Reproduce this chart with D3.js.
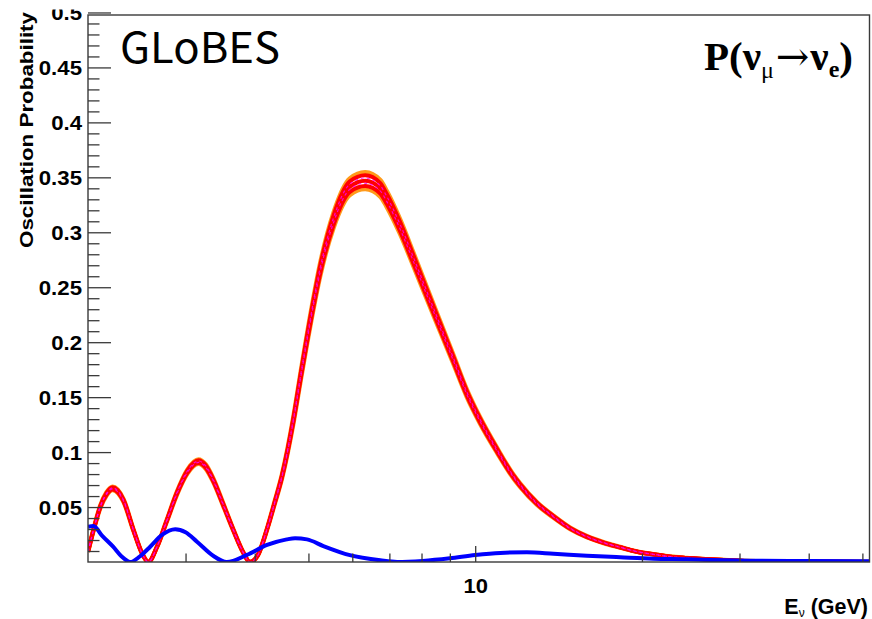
<!DOCTYPE html>
<html>
<head>
<meta charset="utf-8">
<script src="https://cdn.jsdelivr.net/npm/d3@7"></script>
<style>
  html, body { margin: 0; padding: 0; background: #fff; }
  svg { display: block; }
</style>
</head>
<body>
<svg id="chart" width="872" height="619"></svg>
<script>
// ---------------- data ----------------
// Energy in GeV (log axis), oscillation probability P(nu_mu -> nu_e)
const redE = [2.00, 2.046, 2.104, 2.16, 2.215, 2.318, 2.416, 2.503, 2.57, 2.665, 2.777, 2.894, 3.021, 3.166, 3.26, 3.365, 3.51, 3.66, 3.81, 3.92, 4.05, 4.21, 4.34, 4.48, 4.70, 4.83, 5.04, 5.25, 5.55, 5.94, 6.33, 6.74, 6.93, 7.32, 7.74, 8.18, 8.65, 9.14, 9.66, 10.2, 10.94, 11.73, 12.05, 12.92, 13.85, 14.84, 15.91, 17.04, 18.27, 19.59, 20.98, 22.49, 24.1, 26.9, 30.0, 35.0, 42.0, 51.5];
const redP = [0.0094, 0.029, 0.050, 0.062, 0.067, 0.056, 0.029, 0.008, 0.0, 0.0139, 0.038, 0.0625, 0.082, 0.0913, 0.087, 0.0746, 0.052, 0.029, 0.009, 0.0, 0.006, 0.030, 0.053, 0.078, 0.130, 0.166, 0.220, 0.266, 0.311, 0.3415, 0.347, 0.340, 0.330, 0.305, 0.275, 0.2445, 0.214, 0.184, 0.1535, 0.129, 0.102, 0.0776, 0.0700, 0.0534, 0.0412, 0.0306, 0.023, 0.0176, 0.0134, 0.0094, 0.0070, 0.0048, 0.0036, 0.0022, 0.0012, 0.0005, 0.0002, 0.0001];
// spread of the family of red curves (relative scale of each drawn curve)
const redBandOuter = [1.022, 0.978];
const redBandMid   = [1.014, 1.0, 0.986];
const redBandInner = [1.007, 0.993];

const blueE = [2.00, 2.046, 2.12, 2.22, 2.30, 2.384, 2.48, 2.59, 2.72, 2.874, 3.00, 3.146, 3.37, 3.56, 3.87, 4.21, 4.57, 4.73, 4.97, 5.32, 5.94, 6.74, 7.23, 8.04, 9.0, 10.0, 11.1, 12.4, 13.85, 15.91, 18.27, 20.98, 24.1, 26.9, 32.0, 40.0, 51.5];
const blueP = [0.032, 0.0328, 0.024, 0.0139, 0.005, 0.0, 0.005, 0.0139, 0.0246, 0.0298, 0.027, 0.0185, 0.0055, 0.0, 0.0064, 0.0155, 0.0206, 0.0216, 0.0206, 0.0145, 0.0062, 0.0015, 0.0, 0.001, 0.0034, 0.0064, 0.0083, 0.0088, 0.0075, 0.0057, 0.0043, 0.0030, 0.0025, 0.0018, 0.0012, 0.0008, 0.0006];

const xDomain = [2, 51.5];
const yDomain = [0, 0.4977];
const xMajorTicks = [10];
const xMajorLabels = ["10"];
const xMinorTicks = [3, 4, 5, 6, 7, 8, 9, 20, 30, 40, 50];
const yMajorTicks = [0.05, 0.1, 0.15, 0.2, 0.25, 0.3, 0.35, 0.4, 0.45, 0.5];
const yMajorLabels = ["0.05", "0.1", "0.15", "0.2", "0.25", "0.3", "0.35", "0.4", "0.45", "0.5"];
const yMinorTicks = [0.01, 0.02, 0.03, 0.04, 0.06, 0.07, 0.08, 0.09, 0.11, 0.12, 0.13, 0.14, 0.16, 0.17, 0.18, 0.19,
  0.21, 0.22, 0.23, 0.24, 0.26, 0.27, 0.28, 0.29, 0.31, 0.32, 0.33, 0.34, 0.36, 0.37, 0.38, 0.39,
  0.41, 0.42, 0.43, 0.44, 0.46, 0.47, 0.48, 0.49];

const xTitle = ["E", "ν", " (GeV)"];
const yTitle = "Oscillation Probability";
const brand = "GLoBES";

// ---------------- layout ----------------
const X0 = 88, X1 = 869.5, Y0 = 15, Y1 = 562;
const svg = d3.select("#chart");
const x = d3.scaleLog().domain(xDomain).range([X0, X1]);
const y = d3.scaleLinear().domain(yDomain).range([Y1, Y0]);
const axisColor = "#3a3a3a";

svg.append("defs").append("clipPath").attr("id", "plotclip")
  .append("rect").attr("x", X0).attr("y", Y0).attr("width", X1 - X0).attr("height", Y1 - Y0);

const plot = svg.append("g").attr("clip-path", "url(#plotclip)");

function lineFor(E, P, k) {
  return d3.line()
    .x((d, i) => x(E[i]))
    .y((d, i) => y(P[i] * k))
    .curve(d3.curveMonotoneX)(P);
}

// red family
redBandOuter.forEach(k => plot.append("path").attr("d", lineFor(redE, redP, k))
  .attr("fill", "none").attr("stroke", "#ff9a1a").attr("stroke-width", 4.5).attr("stroke-linejoin", "round"));
redBandMid.forEach(k => plot.append("path").attr("d", lineFor(redE, redP, k))
  .attr("fill", "none").attr("stroke", "#ff0000").attr("stroke-width", 4).attr("stroke-linejoin", "round"));
redBandInner.forEach(k => plot.append("path").attr("d", lineFor(redE, redP, k))
  .attr("fill", "none").attr("stroke", "#ff00ff").attr("stroke-width", 1.2).attr("stroke-dasharray", "3,3").attr("opacity", 0.8));

// blue
plot.append("path").attr("d", lineFor(blueE, blueP, 1))
  .attr("fill", "none").attr("stroke", "#0000ff").attr("stroke-width", 4).attr("stroke-linejoin", "round");

// ---------------- axes ----------------
const labelFont = "'Liberation Sans', Arial, Helvetica, sans-serif";

const yMajorAxis = d3.axisLeft(y).tickValues(yMajorTicks).tickSize(-23).tickPadding(6)
  .tickFormat((d, i) => yMajorLabels[i]);
const yMinorAxis = d3.axisLeft(y).tickValues(yMinorTicks).tickSize(-11.5).tickFormat("");
const gyMinor = svg.append("g").attr("transform", `translate(${X0},0)`).call(yMinorAxis);
const gy = svg.append("g").attr("transform", `translate(${X0},0)`).call(yMajorAxis);

const xMajorAxis = d3.axisBottom(x).tickValues(xMajorTicks).tickSize(-16).tickPadding(0)
  .tickFormat((d, i) => xMajorLabels[i]);
const xMinorAxis = d3.axisBottom(x).tickValues(xMinorTicks).tickSize(-8.5).tickFormat("");
const gxMinor = svg.append("g").attr("transform", `translate(0,${Y1})`).call(xMinorAxis);
const gx = svg.append("g").attr("transform", `translate(0,${Y1})`).call(xMajorAxis);

[gy, gyMinor, gx, gxMinor].forEach(g => {
  g.select(".domain").remove();
  g.selectAll(".tick line").attr("stroke", axisColor).attr("stroke-width", 1.3);
});

gy.selectAll(".tick text")
  .attr("font-family", labelFont).attr("font-weight", "bold").attr("font-size", 19.5)
  .attr("fill", "#000").attr("dy", "0.36em").attr("x", -6)
  .attr("transform", "translate(-6,0) scale(1.14,1) translate(6,0)");

gx.selectAll(".tick text")
  .attr("font-family", labelFont).attr("font-weight", "bold").attr("font-size", 20)
  .attr("fill", "#000").attr("y", 31).attr("dy", 0)
  .attr("transform", "scale(1.1,1)");

// frame
svg.append("rect").attr("x", X0).attr("y", Y0).attr("width", X1 - X0).attr("height", Y1 - Y0)
  .attr("fill", "none").attr("stroke", axisColor).attr("stroke-width", 1.4);

// cut at very top of the picture (label 0.5 is clipped in the reference)
svg.append("rect").attr("x", 0).attr("y", 0).attr("width", X0 - 2).attr("height", 9.5).attr("fill", "#fff");

// axis titles
svg.append("text")
  .attr("transform", "translate(33,12) rotate(-90)")
  .attr("text-anchor", "end")
  .attr("font-family", labelFont).attr("font-weight", "bold").attr("font-size", 18)
  .attr("textLength", 236).attr("lengthAdjust", "spacingAndGlyphs")
  .attr("fill", "#000")
  .text(yTitle);

const xt = svg.append("text")
  .attr("x", 868).attr("y", 614)
  .attr("text-anchor", "end")
  .attr("font-family", labelFont).attr("font-weight", "bold").attr("font-size", 21.5)
  .attr("fill", "#000");
xt.append("tspan").text(xTitle[0]);
xt.append("tspan").attr("font-size", 12).attr("dy", 3).attr("font-weight", "normal").text(xTitle[1]);
xt.append("tspan").attr("dy", -3).text(xTitle[2]);

// GLoBES brand
svg.append("text")
  .attr("x", 120).attr("y", 63)
  .attr("font-family", "'Noto Sans CJK JP', 'Noto Sans', sans-serif")
  .attr("font-size", 42).attr("font-weight", 400)
  .attr("textLength", 160).attr("lengthAdjust", "spacingAndGlyphs")
  .attr("fill", "#000")
  .text(brand);

// P(nu_mu -> nu_e)
const pl = svg.append("text")
  .attr("x", 853).attr("y", 69.5)
  .attr("text-anchor", "end")
  .attr("font-family", "'Liberation Serif', 'Times New Roman', serif")
  .attr("font-weight", "bold").attr("font-size", 41).attr("fill", "#000");
pl.append("tspan").text("P(ν");
pl.append("tspan").attr("font-size", 24).attr("dy", 8).attr("font-weight", "normal").text("μ");
pl.append("tspan").attr("dy", -8).attr("dx", 2).attr("font-weight", "normal").attr("font-family", "'DejaVu Serif', serif").attr("font-size", 40).text("→");
pl.append("tspan").attr("dx", 1).text("ν");
pl.append("tspan").attr("font-size", 24).attr("dy", 7).text("e");
pl.append("tspan").attr("dy", -7).text(")");
</script>
</body>
</html>
